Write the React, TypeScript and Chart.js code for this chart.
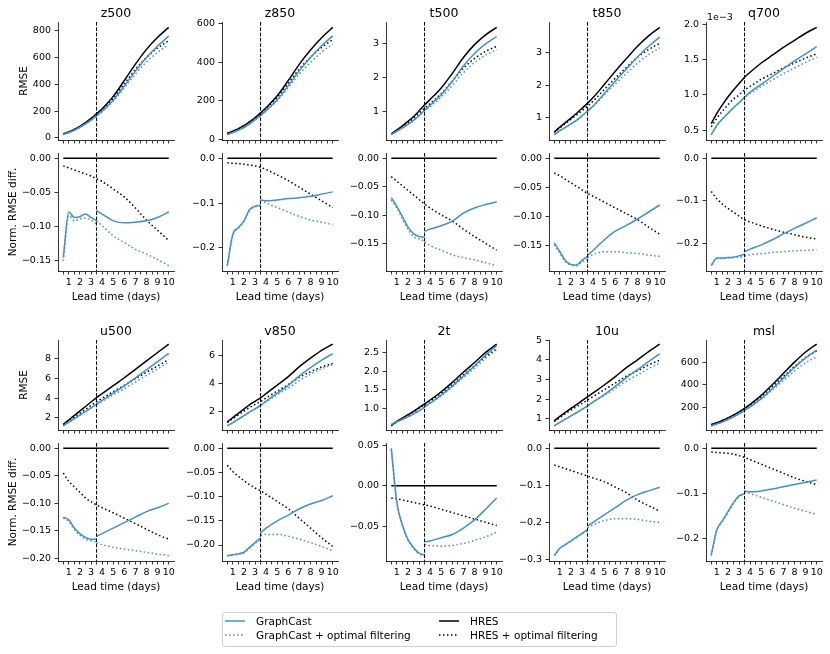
import React, { useEffect, useRef } from "react";
import { Chart, registerables } from "chart.js";

Chart.register(...registerables);

const FONT = '"DejaVu Sans", Verdana, sans-serif';
const BLUE = "#4191cf";
const BLACK = "#000000";
const DOT = [1.5, 2.5];
const SOLID: number[] = [];

const LEAD_DAYS = [0.5, 1, 1.5, 2, 2.5, 3, 3.5, 4, 5, 6, 7, 8, 9, 10];
const EARLY_DAYS = [0.5, 1, 1.5, 2, 2.5, 3, 3.5];
const LATE_DAYS = [3.5, 4, 5, 6, 7, 8, 9, 10];
const X_TICK_VALUES = [0.5, 1, 1.5, 2, 2.5, 3, 3.5, 4, 4.5, 5, 5.5, 6, 6.5, 7, 7.5, 8, 8.5, 9, 9.5, 10];
const X_TICK_LABELS = ["", "1", "", "2", "", "3", "", "4", "", "5", "", "6", "", "7", "", "8", "", "9", "", "10"];
const SPLIT_DAY = 3.5;
const HRES_DIFF = [0, 0, 0, 0, 0, 0, 0, 0, 0, 0, 0, 0, 0, 0];

const TOP_VARIABLES = ["z500", "z850", "t500", "t850", "q700"];
const BOTTOM_VARIABLES = ["u500", "v850", "2t", "10u", "msl"];

// ---- z500 ----
const z500RmseHres = [30, 45, 64, 87, 114, 146, 182, 218, 310, 428, 550, 660, 750, 824];
const z500RmseGc = [26, 41, 58, 80, 105, 133, 167, 200, 282, 387, 498, 599, 685, 759];
const z500RmseHresF = [30, 44, 63, 85, 111, 142, 177, 211, 296, 404, 510, 600, 671, 724];
const z500RmseGcF = [25, 41, 58, 79, 104, 133, 165, 196, 275, 375, 476, 567, 638, 694];
const z500DiffHresF = [-0.011, -0.014, -0.017, -0.02, -0.023, -0.026, -0.03, -0.034, -0.045, -0.057, -0.073, -0.091, -0.106, -0.121];
const z500DiffGcEarly = [-0.146, -0.079, -0.087, -0.086, -0.082, -0.087, -0.092];
const z500DiffGcLate = [-0.077, -0.082, -0.092, -0.095, -0.094, -0.092, -0.087, -0.079];
const z500DiffGcFEarly = [-0.151, -0.084, -0.092, -0.089, -0.088, -0.091, -0.097];
const z500DiffGcFLate = [-0.092, -0.099, -0.114, -0.124, -0.134, -0.141, -0.149, -0.158];
const z500RmseTicks = ["0", "200", "400", "600", "800"];
const z500DiffTicks = ["0.00", "−0.05", "−0.10", "−0.15"];

// ---- z850 ----
const z850RmseHres = [30, 41, 54, 70, 89, 111, 136, 163, 225, 305, 390, 463, 527, 581];
const z850RmseGc = [23, 34, 46, 60, 79, 99, 123, 148, 204, 278, 356, 424, 485, 537];
const z850RmseHresF = [30, 41, 53, 69, 88, 109, 133, 159, 217, 290, 365, 426, 477, 517];
const z850RmseGcF = [23, 34, 46, 60, 79, 99, 122, 147, 200, 268, 339, 399, 452, 495];
const z850DiffHresF = [-0.01, -0.011, -0.012, -0.013, -0.015, -0.017, -0.02, -0.025, -0.037, -0.05, -0.065, -0.08, -0.095, -0.11];
const z850DiffGcEarly = [-0.24, -0.17, -0.155, -0.14, -0.115, -0.107, -0.105];
const z850DiffGcLate = [-0.093, -0.095, -0.093, -0.09, -0.088, -0.085, -0.08, -0.075];
const z850DiffGcFEarly = [-0.24, -0.172, -0.157, -0.142, -0.117, -0.109, -0.107];
const z850DiffGcFLate = [-0.093, -0.1, -0.11, -0.12, -0.13, -0.138, -0.143, -0.148];
const z850RmseTicks = ["0", "200", "400", "600"];
const z850DiffTicks = ["0.0", "−0.1", "−0.2"];

// ---- t500 ----
const t500RmseHres = [0.34, 0.46, 0.58, 0.71, 0.85, 1.02, 1.2, 1.36, 1.7, 2.13, 2.6, 2.98, 3.27, 3.49];
const t500RmseGc = [0.32, 0.42, 0.52, 0.62, 0.74, 0.88, 1.04, 1.19, 1.5, 1.9, 2.35, 2.72, 3.0, 3.22];
const t500RmseHresF = [0.33, 0.44, 0.55, 0.67, 0.8, 0.95, 1.1, 1.24, 1.53, 1.9, 2.28, 2.57, 2.78, 2.93];
const t500RmseGcF = [0.32, 0.42, 0.52, 0.62, 0.73, 0.88, 1.02, 1.15, 1.43, 1.77, 2.15, 2.45, 2.67, 2.83];
const t500DiffHresF = [-0.032, -0.04, -0.048, -0.056, -0.064, -0.072, -0.08, -0.087, -0.099, -0.11, -0.124, -0.137, -0.149, -0.161];
const t500DiffGcEarly = [-0.069, -0.084, -0.102, -0.12, -0.132, -0.137, -0.138];
const t500DiffGcLate = [-0.128, -0.124, -0.118, -0.11, -0.096, -0.087, -0.081, -0.076];
const t500DiffGcFEarly = [-0.073, -0.087, -0.106, -0.124, -0.137, -0.141, -0.145];
const t500DiffGcFLate = [-0.147, -0.153, -0.161, -0.169, -0.174, -0.178, -0.183, -0.188];
const t500RmseTicks = ["1", "2", "3"];
const t500DiffTicks = ["0.00", "−0.05", "−0.10", "−0.15"];

// ---- t850 ----
const t850RmseHres = [0.56, 0.71, 0.85, 0.99, 1.13, 1.29, 1.45, 1.62, 2.02, 2.43, 2.82, 3.2, 3.52, 3.78];
const t850RmseGc = [0.48, 0.6, 0.7, 0.81, 0.92, 1.06, 1.21, 1.36, 1.74, 2.13, 2.5, 2.87, 3.2, 3.48];
const t850RmseHresF = [0.55, 0.69, 0.82, 0.95, 1.08, 1.22, 1.36, 1.51, 1.87, 2.22, 2.55, 2.86, 3.1, 3.29];
const t850RmseGcF = [0.48, 0.59, 0.7, 0.81, 0.92, 1.06, 1.2, 1.35, 1.7, 2.04, 2.36, 2.68, 2.94, 3.15];
const t850DiffHresF = [-0.025, -0.03, -0.036, -0.042, -0.048, -0.054, -0.06, -0.065, -0.075, -0.085, -0.095, -0.105, -0.118, -0.13];
const t850DiffGcEarly = [-0.145, -0.16, -0.175, -0.182, -0.183, -0.175, -0.168];
const t850DiffGcLate = [-0.166, -0.158, -0.14, -0.125, -0.115, -0.104, -0.092, -0.08];
const t850DiffGcFEarly = [-0.148, -0.163, -0.177, -0.183, -0.184, -0.178, -0.172];
const t850DiffGcFLate = [-0.17, -0.165, -0.16, -0.16, -0.162, -0.163, -0.166, -0.168];
const t850RmseTicks = ["1", "2", "3"];
const t850DiffTicks = ["0.00", "−0.05", "−0.10", "−0.15"];

// ---- q700 (RMSE in units of 1e-3) ----
const q700RmseHres = [0.594, 0.74, 0.86, 0.97, 1.07, 1.16, 1.25, 1.32, 1.45, 1.56, 1.67, 1.77, 1.87, 1.953];
const q700RmseGc = [0.44, 0.57, 0.66, 0.74, 0.82, 0.89, 0.97, 1.04, 1.15, 1.26, 1.37, 1.48, 1.58, 1.68];
const q700RmseHresF = [0.55, 0.67, 0.77, 0.86, 0.94, 1.0, 1.07, 1.12, 1.22, 1.3, 1.38, 1.45, 1.52, 1.58];
const q700RmseGcF = [0.44, 0.56, 0.66, 0.74, 0.82, 0.89, 0.96, 1.02, 1.12, 1.21, 1.3, 1.38, 1.46, 1.53];
const q700DiffHresF = [-0.078, -0.095, -0.108, -0.118, -0.127, -0.136, -0.145, -0.15, -0.159, -0.167, -0.174, -0.18, -0.186, -0.19];
const q700DiffGcEarly = [-0.253, -0.235, -0.235, -0.234, -0.233, -0.23, -0.226];
const q700DiffGcLate = [-0.22, -0.214, -0.204, -0.192, -0.178, -0.165, -0.153, -0.14];
const q700DiffGcFEarly = [-0.251, -0.237, -0.236, -0.235, -0.234, -0.233, -0.231];
const q700DiffGcFLate = [-0.23, -0.227, -0.225, -0.222, -0.22, -0.218, -0.217, -0.216];
const q700RmseTicks = ["0.5", "1.0", "1.5", "2.0"];
const q700DiffTicks = ["0.0", "−0.1", "−0.2"];
const q700OffsetLabel = "1e−3";

// ---- u500 ----
const u500RmseHres = [1.36, 1.8, 2.25, 2.7, 3.15, 3.6, 4.05, 4.45, 5.25, 6.05, 6.9, 7.75, 8.6, 9.45];
const u500RmseGc = [1.19, 1.57, 1.92, 2.28, 2.64, 3.01, 3.39, 3.76, 4.49, 5.23, 6.04, 6.86, 7.67, 8.51];
const u500RmseHresF = [1.3, 1.69, 2.09, 2.48, 2.87, 3.25, 3.63, 3.97, 4.64, 5.28, 5.96, 6.61, 7.25, 7.89];
const u500RmseGcF = [1.19, 1.56, 1.92, 2.27, 2.63, 3.0, 3.36, 3.67, 4.31, 4.94, 5.62, 6.29, 6.95, 7.61];
const u500DiffHresF = [-0.045, -0.06, -0.07, -0.08, -0.09, -0.097, -0.103, -0.108, -0.117, -0.127, -0.137, -0.147, -0.157, -0.165];
const u500DiffGcEarly = [-0.125, -0.13, -0.145, -0.155, -0.162, -0.165, -0.165];
const u500DiffGcLate = [-0.16, -0.155, -0.145, -0.135, -0.125, -0.115, -0.108, -0.1];
const u500DiffGcFEarly = [-0.127, -0.133, -0.148, -0.158, -0.165, -0.168, -0.17];
const u500DiffGcFLate = [-0.172, -0.175, -0.18, -0.183, -0.186, -0.189, -0.192, -0.195];
const u500RmseTicks = ["2", "4", "6", "8"];
const u500DiffTicks = ["0.00", "−0.05", "−0.10", "−0.15", "−0.20"];

// ---- v850 ----
const v850RmseHres = [1.3, 1.6, 1.9, 2.2, 2.5, 2.75, 3.0, 3.3, 3.9, 4.5, 5.2, 5.8, 6.35, 6.8];
const v850RmseGc = [1.01, 1.25, 1.49, 1.73, 1.99, 2.21, 2.46, 2.76, 3.32, 3.88, 4.55, 5.13, 5.66, 6.13];
const v850RmseHresF = [1.25, 1.52, 1.79, 2.05, 2.31, 2.53, 2.74, 2.99, 3.47, 3.94, 4.45, 4.84, 5.18, 5.42];
const v850RmseGcF = [1.01, 1.25, 1.48, 1.72, 1.98, 2.21, 2.45, 2.71, 3.21, 3.68, 4.22, 4.67, 5.06, 5.36];
const v850DiffHresF = [-0.035, -0.048, -0.058, -0.067, -0.075, -0.082, -0.088, -0.095, -0.11, -0.125, -0.145, -0.165, -0.185, -0.203];
const v850DiffGcEarly = [-0.222, -0.22, -0.218, -0.215, -0.205, -0.195, -0.185];
const v850DiffGcLate = [-0.175, -0.165, -0.15, -0.138, -0.125, -0.115, -0.108, -0.098];
const v850DiffGcFEarly = [-0.222, -0.221, -0.219, -0.216, -0.207, -0.197, -0.188];
const v850DiffGcFLate = [-0.18, -0.178, -0.178, -0.182, -0.188, -0.195, -0.203, -0.212];
const v850RmseTicks = ["2", "4", "6"];
const v850DiffTicks = ["0.00", "−0.05", "−0.10", "−0.15", "−0.20"];

// ---- 2t ----
const t2mRmseHres = [0.55, 0.66, 0.75, 0.84, 0.93, 1.03, 1.13, 1.23, 1.45, 1.7, 1.97, 2.23, 2.5, 2.72];
const t2mRmseGc = [0.58, 0.65, 0.71, 0.78, 0.86, 0.94, 1.04, 1.15, 1.36, 1.6, 1.87, 2.14, 2.43, 2.68];
const t2mRmseHresF = [0.54, 0.65, 0.74, 0.82, 0.91, 1.01, 1.1, 1.2, 1.41, 1.64, 1.9, 2.14, 2.39, 2.59];
const t2mRmseGcF = [0.57, 0.65, 0.71, 0.78, 0.86, 0.94, 1.04, 1.14, 1.34, 1.58, 1.83, 2.08, 2.34, 2.57];
const t2mDiffHresF = [-0.015, -0.016, -0.0175, -0.019, -0.0205, -0.022, -0.0235, -0.025, -0.029, -0.033, -0.037, -0.041, -0.045, -0.049];
const t2mDiffGcEarly = [0.046, -0.02, -0.048, -0.066, -0.076, -0.083, -0.085];
const t2mDiffGcLate = [-0.069, -0.068, -0.064, -0.06, -0.052, -0.042, -0.029, -0.015];
const t2mDiffGcFEarly = [0.045, -0.021, -0.049, -0.067, -0.077, -0.084, -0.086];
const t2mDiffGcFLate = [-0.0722, -0.0735, -0.0743, -0.0735, -0.071, -0.0673, -0.0629, -0.0571];
const t2mRmseTicks = ["1.0", "1.5", "2.0", "2.5"];
const t2mDiffTicks = ["0.05", "0.00", "−0.05"];

// ---- 10u ----
const u10RmseHres = [0.9, 1.12, 1.33, 1.53, 1.72, 1.92, 2.12, 2.32, 2.72, 3.15, 3.6, 4.0, 4.42, 4.8];
const u10RmseGc = [0.64, 0.82, 0.98, 1.15, 1.31, 1.48, 1.66, 1.86, 2.23, 2.65, 3.1, 3.5, 3.91, 4.3];
const u10RmseHresF = [0.86, 1.06, 1.26, 1.44, 1.61, 1.79, 1.96, 2.13, 2.48, 2.82, 3.17, 3.44, 3.74, 3.98];
const u10RmseGcF = [0.64, 0.82, 0.98, 1.15, 1.31, 1.48, 1.66, 1.84, 2.19, 2.55, 2.92, 3.23, 3.55, 3.84];
const u10DiffHresF = [-0.045, -0.05, -0.055, -0.06, -0.065, -0.07, -0.075, -0.08, -0.09, -0.105, -0.12, -0.14, -0.155, -0.17];
const u10DiffGcEarly = [-0.29, -0.27, -0.26, -0.25, -0.24, -0.23, -0.22];
const u10DiffGcLate = [-0.21, -0.2, -0.18, -0.16, -0.14, -0.125, -0.115, -0.105];
const u10DiffGcFEarly = [-0.29, -0.271, -0.261, -0.251, -0.241, -0.231, -0.222];
const u10DiffGcFLate = [-0.215, -0.207, -0.195, -0.19, -0.19, -0.192, -0.197, -0.2];
const u10RmseTicks = ["1", "2", "3", "4", "5"];
const u10DiffTicks = ["0.0", "−0.1", "−0.2", "−0.3"];

// ---- msl ----
const mslRmseHres = [45, 62, 82, 105, 130, 158, 190, 225, 305, 400, 500, 600, 690, 760];
const mslRmseGc = [34, 51, 69, 90, 114, 141, 172, 203, 276, 364, 458, 552, 638, 707];
const mslRmseHresF = [45, 61, 81, 104, 128, 155, 186, 219, 294, 382, 473, 561, 640, 699];
const mslRmseGcF = [34, 51, 69, 90, 114, 141, 171, 203, 272, 354, 438, 521, 594, 649];
const mslDiffHresF = [-0.008, -0.009, -0.01, -0.011, -0.013, -0.016, -0.02, -0.025, -0.035, -0.045, -0.055, -0.065, -0.073, -0.08];
const mslDiffGcEarly = [-0.235, -0.18, -0.16, -0.14, -0.12, -0.105, -0.1];
const mslDiffGcLate = [-0.095, -0.096, -0.094, -0.09, -0.085, -0.08, -0.075, -0.07];
const mslDiffGcFEarly = [-0.237, -0.182, -0.162, -0.142, -0.122, -0.107, -0.102];
const mslDiffGcFLate = [-0.095, -0.1, -0.108, -0.116, -0.124, -0.132, -0.139, -0.146];
const mslRmseTicks = ["200", "400", "600"];
const mslDiffTicks = ["0.0", "−0.1", "−0.2"];

// ---- layout ----
const COL_LEFTS = [58, 222, 386, 549, 706];
const ROW_TOPS = [22, 153, 340, 443];
const ROW_HEIGHTS = [118, 118, 90, 118];
const PLOT_W = 116;
const PAD_L = 56;
const Y_AXIS_W = 50;
const PAD_R = 12;
const PAD_T = 14;
const PAD_B = 6;

type Series = { x: number[]; y: number[]; color: string; dash: number[] };

function rmseSeries(hres: number[], hresF: number[], gc: number[], gcF: number[]): Series[] {
  return [
    { x: LEAD_DAYS, y: gc, color: BLUE, dash: SOLID },
    { x: LEAD_DAYS, y: gcF, color: BLUE, dash: DOT },
    { x: LEAD_DAYS, y: hres, color: BLACK, dash: SOLID },
    { x: LEAD_DAYS, y: hresF, color: BLACK, dash: DOT },
  ];
}

function diffSeries(hresF: number[], gcE: number[], gcL: number[], gcFE: number[], gcFL: number[]): Series[] {
  return [
    { x: EARLY_DAYS, y: gcE, color: BLUE, dash: SOLID },
    { x: LATE_DAYS, y: gcL, color: BLUE, dash: SOLID },
    { x: EARLY_DAYS, y: gcFE, color: BLUE, dash: DOT },
    { x: LATE_DAYS, y: gcFL, color: BLUE, dash: DOT },
    { x: LEAD_DAYS, y: HRES_DIFF, color: BLACK, dash: SOLID },
    { x: LEAD_DAYS, y: hresF, color: BLACK, dash: DOT },
  ];
}

type PanelSpec = { row: number; col: number; series: Series[]; ticks: string[]; showX: boolean };

const PANELS: PanelSpec[] = [
  { row: 0, col: 0, series: rmseSeries(z500RmseHres, z500RmseHresF, z500RmseGc, z500RmseGcF), ticks: z500RmseTicks, showX: false },
  { row: 0, col: 1, series: rmseSeries(z850RmseHres, z850RmseHresF, z850RmseGc, z850RmseGcF), ticks: z850RmseTicks, showX: false },
  { row: 0, col: 2, series: rmseSeries(t500RmseHres, t500RmseHresF, t500RmseGc, t500RmseGcF), ticks: t500RmseTicks, showX: false },
  { row: 0, col: 3, series: rmseSeries(t850RmseHres, t850RmseHresF, t850RmseGc, t850RmseGcF), ticks: t850RmseTicks, showX: false },
  { row: 0, col: 4, series: rmseSeries(q700RmseHres, q700RmseHresF, q700RmseGc, q700RmseGcF), ticks: q700RmseTicks, showX: false },
  { row: 1, col: 0, series: diffSeries(z500DiffHresF, z500DiffGcEarly, z500DiffGcLate, z500DiffGcFEarly, z500DiffGcFLate), ticks: z500DiffTicks, showX: true },
  { row: 1, col: 1, series: diffSeries(z850DiffHresF, z850DiffGcEarly, z850DiffGcLate, z850DiffGcFEarly, z850DiffGcFLate), ticks: z850DiffTicks, showX: true },
  { row: 1, col: 2, series: diffSeries(t500DiffHresF, t500DiffGcEarly, t500DiffGcLate, t500DiffGcFEarly, t500DiffGcFLate), ticks: t500DiffTicks, showX: true },
  { row: 1, col: 3, series: diffSeries(t850DiffHresF, t850DiffGcEarly, t850DiffGcLate, t850DiffGcFEarly, t850DiffGcFLate), ticks: t850DiffTicks, showX: true },
  { row: 1, col: 4, series: diffSeries(q700DiffHresF, q700DiffGcEarly, q700DiffGcLate, q700DiffGcFEarly, q700DiffGcFLate), ticks: q700DiffTicks, showX: true },
  { row: 2, col: 0, series: rmseSeries(u500RmseHres, u500RmseHresF, u500RmseGc, u500RmseGcF), ticks: u500RmseTicks, showX: false },
  { row: 2, col: 1, series: rmseSeries(v850RmseHres, v850RmseHresF, v850RmseGc, v850RmseGcF), ticks: v850RmseTicks, showX: false },
  { row: 2, col: 2, series: rmseSeries(t2mRmseHres, t2mRmseHresF, t2mRmseGc, t2mRmseGcF), ticks: t2mRmseTicks, showX: false },
  { row: 2, col: 3, series: rmseSeries(u10RmseHres, u10RmseHresF, u10RmseGc, u10RmseGcF), ticks: u10RmseTicks, showX: false },
  { row: 2, col: 4, series: rmseSeries(mslRmseHres, mslRmseHresF, mslRmseGc, mslRmseGcF), ticks: mslRmseTicks, showX: false },
  { row: 3, col: 0, series: diffSeries(u500DiffHresF, u500DiffGcEarly, u500DiffGcLate, u500DiffGcFEarly, u500DiffGcFLate), ticks: u500DiffTicks, showX: true },
  { row: 3, col: 1, series: diffSeries(v850DiffHresF, v850DiffGcEarly, v850DiffGcLate, v850DiffGcFEarly, v850DiffGcFLate), ticks: v850DiffTicks, showX: true },
  { row: 3, col: 2, series: diffSeries(t2mDiffHresF, t2mDiffGcEarly, t2mDiffGcLate, t2mDiffGcFEarly, t2mDiffGcFLate), ticks: t2mDiffTicks, showX: true },
  { row: 3, col: 3, series: diffSeries(u10DiffHresF, u10DiffGcEarly, u10DiffGcLate, u10DiffGcFEarly, u10DiffGcFLate), ticks: u10DiffTicks, showX: true },
  { row: 3, col: 4, series: diffSeries(mslDiffHresF, mslDiffGcEarly, mslDiffGcLate, mslDiffGcFEarly, mslDiffGcFLate), ticks: mslDiffTicks, showX: true },
];

const splitLinePlugin = {
  id: "splitLine",
  afterDatasetsDraw(chart: any) {
    const { ctx, chartArea, scales } = chart;
    const x = scales.x.getPixelForValue(SPLIT_DAY);
    ctx.save();
    ctx.strokeStyle = BLACK;
    ctx.lineWidth = 1;
    ctx.setLineDash([3.7, 1.6]);
    ctx.beginPath();
    ctx.moveTo(x, chartArea.top);
    ctx.lineTo(x, chartArea.bottom);
    ctx.stroke();
    ctx.restore();
  },
};

function Panel({ spec }: { spec: PanelSpec }) {
  const ref = useRef<HTMLCanvasElement>(null);
  const xAxisH = spec.showX ? 20 : 6;
  const plotH = ROW_HEIGHTS[spec.row];
  const width = PAD_L + PLOT_W + PAD_R;
  const height = PAD_T + plotH + xAxisH + PAD_B;
  const left = COL_LEFTS[spec.col] - PAD_L;
  const top = ROW_TOPS[spec.row] - PAD_T;

  useEffect(() => {
    const canvas = ref.current;
    if (!canvas) return;
    const allY = spec.series.flatMap((s) => s.y);
    const yLo = Math.min(...allY);
    const yHi = Math.max(...allY);
    const yPad = (yHi - yLo) * 0.05;
    const xLo = Math.min(...LEAD_DAYS);
    const xHi = Math.max(...LEAD_DAYS);
    const xPad = (xHi - xLo) * 0.05;
    const yMin = yLo - yPad;
    const yMax = yHi + yPad;
    const tickVals = spec.ticks.map((t) => parseFloat(t.replace("−", "-")));
    const tickFont = { family: FONT, size: 9.5 };

    const chart = new Chart(canvas, {
      type: "line",
      data: {
        datasets: spec.series.map((s) => ({
          data: s.x.map((x, i) => ({ x, y: s.y[i] })),
          borderColor: s.color,
          backgroundColor: s.color,
          borderWidth: 1.5,
          borderDash: s.dash,
          pointRadius: 0,
          fill: false,
          cubicInterpolationMode: "monotone" as const,
        })),
      },
      options: {
        animation: false,
        responsive: false,
        maintainAspectRatio: false,
        events: [],
        layout: { padding: { left: PAD_L - Y_AXIS_W, right: PAD_R, top: PAD_T, bottom: PAD_B } },
        plugins: { legend: { display: false }, tooltip: { enabled: false }, title: { display: false } },
        scales: {
          x: {
            type: "linear",
            min: xLo - xPad,
            max: xHi + xPad,
            afterBuildTicks: (scale: any) => {
              scale.ticks = X_TICK_VALUES.map((v) => ({ value: v }));
            },
            afterFit: (scale: any) => {
              scale.height = xAxisH;
            },
            ticks: {
              autoSkip: false,
              maxRotation: 0,
              minRotation: 0,
              padding: 2.5,
              color: BLACK,
              font: tickFont,
              callback: (value: any) => (spec.showX ? X_TICK_LABELS[X_TICK_VALUES.indexOf(Number(value))] ?? "" : ""),
            },
            grid: { display: true, drawOnChartArea: false, drawTicks: true, tickLength: 3.5, color: BLACK, lineWidth: 0.8 },
            border: { display: true, color: BLACK, width: 0.8 },
          },
          y: {
            type: "linear",
            min: yMin,
            max: yMax,
            afterBuildTicks: (scale: any) => {
              scale.ticks = tickVals.filter((v) => v >= yMin && v <= yMax).map((v) => ({ value: v }));
            },
            afterFit: (scale: any) => {
              scale.width = Y_AXIS_W;
            },
            ticks: {
              padding: 3.5,
              color: BLACK,
              font: tickFont,
              callback: (value: any) => {
                const idx = tickVals.findIndex((v) => Math.abs(v - Number(value)) < 1e-9);
                return idx >= 0 ? spec.ticks[idx] : "";
              },
            },
            grid: { display: true, drawOnChartArea: false, drawTicks: true, tickLength: 3.5, color: BLACK, lineWidth: 0.8 },
            border: { display: true, color: BLACK, width: 0.8 },
          },
        },
      },
      plugins: [splitLinePlugin],
    } as any);
    return () => chart.destroy();
  }, []);

  return (
    <canvas
      ref={ref}
      width={width}
      height={height}
      style={{ position: "absolute", left, top, width, height }}
    />
  );
}

function Label({ x, y, text, size, rotate, align }: { x: number; y: number; text: string; size: number; rotate?: boolean; align?: "left" | "center" }) {
  const tx = align === "left" ? "0" : "-50%";
  return (
    <div
      style={{
        position: "absolute",
        left: x,
        top: y,
        transform: `translate(${tx}, -50%)${rotate ? " rotate(-90deg)" : ""}`,
        transformOrigin: rotate ? "center center" : undefined,
        fontFamily: FONT,
        fontSize: size,
        lineHeight: `${Math.round(size * 1.164)}px`,
        whiteSpace: "nowrap",
        color: BLACK,
      }}
    >
      {text}
    </div>
  );
}

function LegendItem({ x, y, color, dash, text }: { x: number; y: number; color: string; dash: number[]; text: string }) {
  return (
    <>
      <svg style={{ position: "absolute", left: x, top: y - 3 }} width={22} height={6}>
        <line x1={1} y1={3} x2={21} y2={3} stroke={color} strokeWidth={1.5} strokeDasharray={dash.length ? dash.join(" ") : undefined} />
      </svg>
      <Label x={x + 32} y={y} text={text} size={10.5} align="left" />
    </>
  );
}

export default function App() {
  const titles = [
    ...TOP_VARIABLES.map((t, c) => ({ t, c, r: 0 })),
    ...BOTTOM_VARIABLES.map((t, c) => ({ t, c, r: 2 })),
  ];
  return (
    <div style={{ position: "absolute", left: 0, top: 0, width: 830, height: 654, background: "#fff", overflow: "hidden" }}>
      {PANELS.map((p, i) => (
        <Panel key={i} spec={p} />
      ))}
      {titles.map(({ t, c, r }) => (
        <Label key={t} x={COL_LEFTS[c] + PLOT_W / 2} y={ROW_TOPS[r] - 10} text={t} size={12.5} />
      ))}
      <Label x={COL_LEFTS[4] + 1} y={ROW_TOPS[0] - 6} text={q700OffsetLabel} size={9.5} align="left" />
      <Label x={23} y={ROW_TOPS[0] + ROW_HEIGHTS[0] / 2} text="RMSE" size={10.5} rotate />
      <Label x={23} y={ROW_TOPS[2] + ROW_HEIGHTS[2] / 2} text="RMSE" size={10.5} rotate />
      <Label x={12} y={ROW_TOPS[1] + ROW_HEIGHTS[1] / 2} text="Norm. RMSE diff." size={10.5} rotate />
      <Label x={12} y={ROW_TOPS[3] + ROW_HEIGHTS[3] / 2} text="Norm. RMSE diff." size={10.5} rotate />
      {[1, 3].flatMap((r) =>
        COL_LEFTS.map((cl, c) => (
          <Label key={`xl${r}${c}`} x={cl + PLOT_W / 2} y={ROW_TOPS[r] + ROW_HEIGHTS[r] + 25} text="Lead time (days)" size={10.5} />
        ))
      )}
      <div
        style={{
          position: "absolute",
          left: 222,
          top: 612,
          width: 395,
          height: 35,
          border: "1px solid #d0d0d0",
          borderRadius: 3,
          boxSizing: "border-box",
        }}
      />
      <LegendItem x={224} y={621} color={BLUE} dash={SOLID} text="GraphCast" />
      <LegendItem x={224} y={635} color={BLUE} dash={DOT} text="GraphCast + optimal filtering" />
      <LegendItem x={438} y={621} color={BLACK} dash={SOLID} text="HRES" />
      <LegendItem x={438} y={635} color={BLACK} dash={DOT} text="HRES + optimal filtering" />
    </div>
  );
}
